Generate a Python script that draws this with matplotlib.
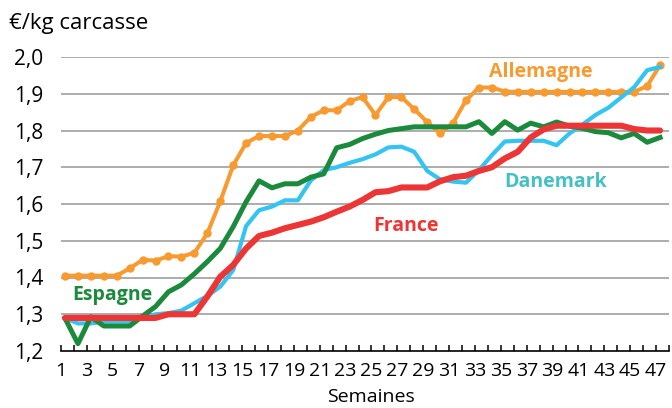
import matplotlib.pyplot as plt
import numpy as np

plt.rcParams['font.family'] = ['Open Sans', 'DejaVu Sans']

semaines = np.arange(1, 48)

allemagne = [1.405, 1.405, 1.405, 1.405, 1.405, 1.425, 1.448, 1.446, 1.458, 1.457,
             1.467, 1.52, 1.607, 1.705, 1.766, 1.785, 1.785, 1.785, 1.80, 1.837,
             1.855, 1.855, 1.88, 1.891, 1.842, 1.891, 1.891, 1.858, 1.823, 1.792,
             1.821, 1.882, 1.917, 1.917, 1.906, 1.905, 1.905, 1.905, 1.905, 1.905,
             1.905, 1.905, 1.905, 1.905, 1.905, 1.921, 1.978]
danemark = [1.29, 1.275, 1.275, 1.28, 1.28, 1.28, 1.29, 1.30, 1.303, 1.31,
            1.33, 1.35, 1.375, 1.42, 1.54, 1.583, 1.593, 1.61, 1.61, 1.664,
            1.692, 1.70, 1.712, 1.722, 1.735, 1.754, 1.756, 1.742, 1.69, 1.667,
            1.661, 1.658, 1.692, 1.733, 1.77, 1.772, 1.772, 1.772, 1.76, 1.792,
            1.816, 1.842, 1.862, 1.89, 1.918, 1.964, 1.973]
espagne = [1.289, 1.22, 1.293, 1.268, 1.268, 1.268, 1.295, 1.321, 1.361, 1.38,
           1.41, 1.443, 1.479, 1.538, 1.606, 1.663, 1.644, 1.655, 1.655, 1.673,
           1.682, 1.753, 1.762, 1.778, 1.79, 1.80, 1.805, 1.81, 1.81, 1.81,
           1.81, 1.81, 1.824, 1.792, 1.824, 1.801, 1.82, 1.81, 1.823, 1.812,
           1.806, 1.797, 1.794, 1.78, 1.792, 1.768, 1.781]
france = [1.29, 1.29, 1.29, 1.29, 1.29, 1.29, 1.29, 1.29, 1.30, 1.30,
          1.30, 1.348, 1.402, 1.434, 1.479, 1.513, 1.522, 1.534, 1.543, 1.552,
          1.564, 1.579, 1.593, 1.611, 1.632, 1.635, 1.645, 1.645, 1.645, 1.662,
          1.673, 1.677, 1.69, 1.70, 1.724, 1.742, 1.781, 1.803, 1.813, 1.813,
          1.813, 1.813, 1.813, 1.813, 1.804, 1.80, 1.80]

orange = '#F79A2F'
bleu = '#33C4F2'
vert = '#1C8A3C'
rouge = '#EE3535'

fig = plt.figure(figsize=(6.72, 4.08), dpi=100)
ax = fig.add_axes([61 / 672, 1 - 351 / 408, 608 / 672, 294 / 408])

ax.plot(semaines, allemagne, color=orange, lw=2.9, marker='o', ms=5, zorder=3)
ax.plot(semaines, danemark, color=bleu, lw=3.0, zorder=4)
ax.plot(semaines, espagne, color=vert, lw=3.6, zorder=5)
ax.plot(semaines, france, color=rouge, lw=4.4, zorder=6, solid_capstyle='round')

# axe des categories : traits entre les semaines, etiquettes une semaine sur deux
decal = 0.309
ticks = np.arange(1, 49) - decal
ax.set_xlim(ticks[0], ticks[-1])
ax.set_xticks(ticks)
ax.set_xticklabels([str(s) if s % 2 == 1 else '' for s in range(1, 49)], fontsize=14)
ax.tick_params(axis='x', direction='in', length=4.5, width=1.1, pad=8, color='black')

ax.set_ylim(1.2, 2.0)
yticks = np.arange(1.2, 2.01, 0.1)
ax.set_yticks(yticks)
ax.set_yticklabels([f'{v:.1f}'.replace('.', ',') for v in yticks], fontsize=15)
ax.tick_params(axis='y', length=0, pad=13)
for v in yticks[1:]:
    ax.axhline(v, color='#A6A6A6', lw=1.3, zorder=1)

for s in ['top', 'right', 'left']:
    ax.spines[s].set_visible(False)
ax.spines['bottom'].set_linewidth(1.2)
ax.spines['bottom'].set_zorder(7)

fig.text(9 / 672, 1 - 23 / 408, '€/kg carcasse', fontsize=16, va='center', ha='left')
fig.text(371 / 672, 1 - 397 / 408, 'Semaines', fontsize=14, va='center', ha='center')

ax.text(33.8, 1.9456, 'Allemagne', color=orange, fontsize=14, fontweight='bold')
ax.text(34.95, 1.647, 'Danemark', color='#45C0C2', fontsize=14, fontweight='bold')
ax.text(24.8, 1.5265, 'France', color=rouge, fontsize=14, fontweight='bold')
ax.text(1.54, 1.338, 'Espagne', color=vert, fontsize=14, fontweight='bold')

plt.savefig('out.png', dpi=100)
